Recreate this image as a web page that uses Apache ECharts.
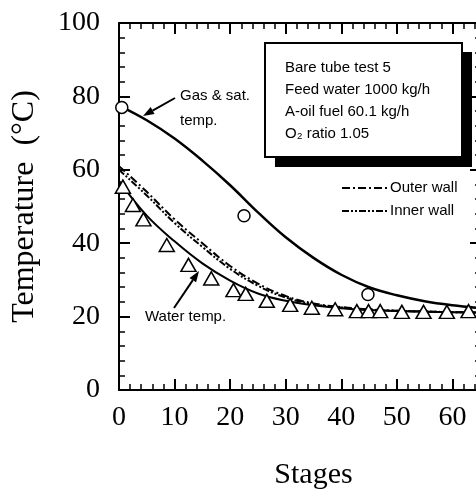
<!DOCTYPE html>
<html>
<head>
<meta charset="utf-8">
<title>chart</title>
<script src="https://cdn.jsdelivr.net/npm/echarts@6/dist/echarts.min.js"></script>
<style>
    html, body { margin: 0; padding: 0; background: #fff; }
    #main { width: 476px; height: 490px; }
</style>
</head>
<body>
<div id="main"></div>
<script>
// stage numbers where the curves are read
var stages = [0, 5, 10, 15, 20, 25, 30, 35, 40, 45, 50, 55, 60, 65];
// calculated curves (deg C)
var gasTemp   = [77.5, 73.5, 68.5, 62.5, 55.8, 48.4, 41.6, 36, 31.4, 28, 25.8, 24.2, 23.1, 22.3];
var waterTemp = [57, 47.5, 40.5, 34.5, 29.8, 26.3, 24.3, 23.1, 22.3, 21.8, 21.5, 21.3, 21.2, 21.1];
var outerWall = [61, 54, 46.5, 40, 33.8, 29, 25.6, 23.6, 22.6, 22, 21.6, 21.4, 21.2, 21.1];
var innerWall = [60, 53, 45.5, 39, 33, 28.4, 25.2, 23.4, 22.5, 21.9, 21.6, 21.4, 21.2, 21.1];
// measured points [stage, temp]
var gasMeasured = [[0.5, 77], [22.5, 47.5], [44.8, 26]];
var waterMeasured = [
    [0.7, 55.4], [2.5, 50.4], [4.4, 46.5], [8.6, 39.5], [12.5, 34.1], [16.6, 30.4],
    [20.6, 27.2], [22.8, 26.2], [26.6, 24.3], [30.8, 23.2], [34.7, 22.4], [38.9, 22.0],
    [42.8, 21.5], [44.9, 21.5], [47.0, 21.5], [50.9, 21.3], [54.8, 21.3], [59.0, 21.3], [62.9, 21.5]
];
var xTickLabels = [0, 10, 20, 30, 40, 50, 60];
var boxLines = ['Bare tube test 5', 'Feed water 1000 kg/h', 'A-oil fuel 60.1 kg/h', 'O\u2082 ratio 1.05'];
var legendNames = ['Outer wall', 'Inner wall'];
var legendDash = [[8, 3, 2, 3], [7, 2, 2, 2, 2, 2]];

var chart = echarts.init(document.getElementById('main'));
var black = '#000';
var serif = 'Liberation Serif';
var sans = 'Liberation Sans';

function pairs(ys) {
    return stages.map(function (s, i) { return [s, ys[i]]; });
}

function frame(extra) {
    var base = {
        type: 'value',
        axisLine: { show: true, onZero: false, lineStyle: { color: black, width: 2 } },
        axisTick: { show: true, inside: true, length: 11, lineStyle: { color: black, width: 2 } },
        minorTick: { show: true, splitNumber: 5, length: 6, lineStyle: { color: black, width: 1.5 } },
        splitLine: { show: false },
        axisLabel: { show: false }
    };
    return Object.assign(base, extra);
}

// little arrow for the annotations
function arrow(x1, y1, x2, y2) {
    var a = Math.atan2(y2 - y1, x2 - x1), L = 11, W = 4;
    var bx = x2 - L * Math.cos(a), by = y2 - L * Math.sin(a);
    return [
        { type: 'line', shape: { x1: x1, y1: y1, x2: bx, y2: by }, style: { stroke: black, lineWidth: 2 } },
        { type: 'polygon', shape: { points: [[x2, y2],
            [bx + W * Math.sin(a), by - W * Math.cos(a)],
            [bx - W * Math.sin(a), by + W * Math.cos(a)]] }, style: { fill: black } }
    ];
}

var txt = { fontFamily: sans, fontSize: 15, fill: black };
var graphics = [
    { type: 'rect', shape: { x: 275, y: 52, width: 197, height: 115 }, style: { fill: black } },
    { type: 'rect', shape: { x: 265, y: 43, width: 197, height: 114 }, style: { fill: '#fff', stroke: black, lineWidth: 2 } },
    { type: 'text', x: 180, y: 96, style: Object.assign({ text: 'Gas & sat.', verticalAlign: 'middle' }, txt) },
    { type: 'text', x: 180, y: 121, style: Object.assign({ text: 'temp.', verticalAlign: 'middle' }, txt) },
    { type: 'text', x: 145, y: 317, style: Object.assign({ text: 'Water temp.', verticalAlign: 'middle' }, txt) }
];
boxLines.forEach(function (t, i) {
    graphics.push({ type: 'text', x: 285, y: 68 + i * 22, style: Object.assign({ text: t, verticalAlign: 'middle' }, txt) });
});
// legend for the wall curves
legendNames.forEach(function (t, i) {
    var y = 188 + i * 23;
    graphics.push({ type: 'line', shape: { x1: 342, y1: y, x2: 387, y2: y },
        style: { stroke: black, lineWidth: 2, lineDash: legendDash[i] } });
    graphics.push({ type: 'text', x: 390, y: y, style: Object.assign({ text: t, verticalAlign: 'middle' }, txt) });
});
graphics = graphics.concat(arrow(175, 98, 143, 116), arrow(174, 308, 199, 271));

chart.setOption({
    animation: false,
    backgroundColor: '#fff',
    grid: [
        { left: 119, right: -32, top: 23, height: 367, outerBoundsMode: 'none' },
        { left: 119, right: -5, top: 23, height: 367, outerBoundsMode: 'none' }
    ],
    xAxis: [
        frame({
            gridIndex: 0, position: 'bottom', min: 0, max: 70, interval: 10,
            axisLabel: {
                show: true, fontFamily: serif, fontSize: 28, color: black, margin: 14,
                formatter: function (v) { return xTickLabels.indexOf(v) >= 0 ? String(v) : ''; }
            },
            name: 'Stages', nameLocation: 'middle', nameGap: 70,
            nameTextStyle: { fontFamily: serif, fontSize: 30, color: black }
        }),
        frame({ gridIndex: 0, position: 'top', min: 0, max: 70, interval: 10 }),
        { gridIndex: 1, type: 'value', show: false, min: 0, max: 70 }
    ],
    yAxis: [
        frame({
            gridIndex: 0, position: 'left', min: 0, max: 100, interval: 20,
            axisLabel: { show: true, fontFamily: serif, fontSize: 28, color: black, margin: 19 },
            name: 'Temperature  (\u00B0C)', nameLocation: 'middle', nameGap: 78,
            nameTextStyle: { fontFamily: serif, fontSize: 32, color: black }
        }),
        frame({ gridIndex: 1, position: 'right', min: 0, max: 100, interval: 20 })
    ],
    series: [
        { name: 'Gas', type: 'line', data: pairs(gasTemp), smooth: 0.4, symbol: 'none',
          lineStyle: { color: black, width: 2.5 }, z: 2 },
        { name: 'Water', type: 'line', data: pairs(waterTemp), smooth: 0.4, symbol: 'none',
          lineStyle: { color: black, width: 2 }, z: 2 },
        { name: 'Outer wall', type: 'line', data: pairs(outerWall), smooth: 0.4, symbol: 'none',
          lineStyle: { color: black, width: 2, type: legendDash[0] }, z: 2 },
        { name: 'Inner wall', type: 'line', data: pairs(innerWall), smooth: 0.4, symbol: 'none',
          lineStyle: { color: black, width: 2, type: legendDash[1] }, z: 2 },
        { name: 'Gas measured', type: 'scatter', data: gasMeasured, symbol: 'circle', symbolSize: 12,
          itemStyle: { color: '#fff', borderColor: black, borderWidth: 1.5, opacity: 1 }, z: 5 },
        { name: 'Water measured', type: 'scatter', data: waterMeasured, symbol: 'triangle', symbolSize: [15, 13],
          itemStyle: { color: '#fff', borderColor: black, borderWidth: 1.5, opacity: 1 }, z: 5 }
    ],
    graphic: graphics
});
</script>
</body>
</html>
